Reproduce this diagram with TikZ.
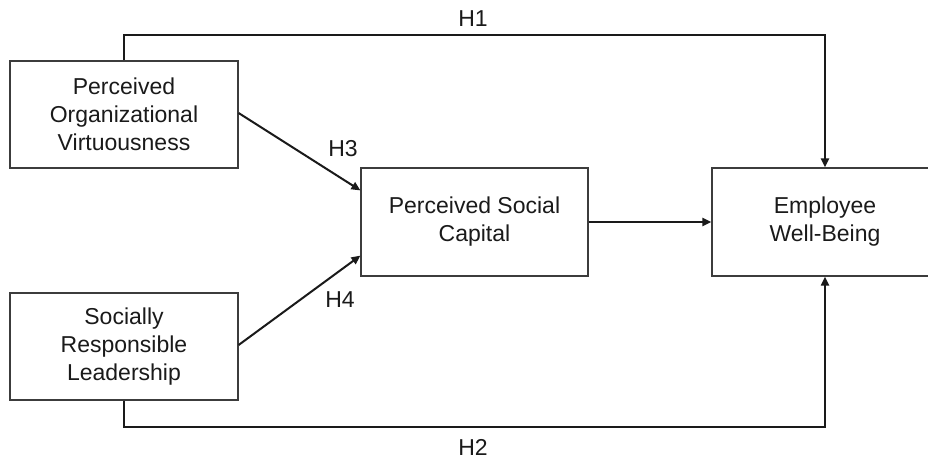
\documentclass[tikz,border=0pt]{standalone}
\usepackage{fontspec}
\setmainfont{Liberation Sans}
\usetikzlibrary{arrows.meta,calc}
\definecolor{ink}{HTML}{1A1A1A}
\definecolor{frame}{HTML}{3C3C3C}
\begin{document}
\begin{tikzpicture}[x=1pt,y=-1pt,
  box/.style={draw=frame,line width=1.2pt,fill=white,rectangle,align=center,
    inner sep=0pt,text=ink,font=\fontsize{23}{28}\selectfont},
  tip/.style={-{Triangle[length=9pt,width=8pt]}},
  conn/.style={draw=ink,line width=2pt,tip},
  hyp/.style={text=ink,font=\fontsize{23}{28}\selectfont,inner sep=0pt}]
  \useasboundingbox[fill=white] (0,0) rectangle (928,459);

  % constructs
  \node[box,minimum width=228pt,minimum height=107pt] (pov) at (124,114.5)
    {Perceived\\Organizational\\Virtuousness};
  \node[box,minimum width=228pt,minimum height=107pt] (srl) at (124,346.5)
    {Socially\\Responsible\\Leadership};
  \node[box,minimum width=227pt,minimum height=108pt] (psc) at (474.5,222)
    {Perceived Social\\Capital};
  \node[box,minimum width=226pt,minimum height=108pt] (ewb) at (825,222)
    {Employee\\Well-Being};

  % mediated paths
  \draw[conn] ($(pov.east)+(0,-1.5)$) -- ($(psc.north west)+(0,23)$);
  \draw[conn] ($(srl.east)+(0,-1.5)$) -- ($(psc.south west)+(0,-21)$);
  \draw[conn] (psc.east) -- (ewb.west);

  % direct paths
  \draw[conn] (pov.north) -- ++(0,-25) -| (ewb.north);
  \draw[conn] (srl.south) -- ++(0,26) -| (ewb.south);

  % hypothesis labels
  \node[hyp] (h1) at (473,19) {H1};
  \node[hyp] (h2) at (473,447) {H2};
  \node[hyp] (h3) at (343,149) {H3};
  \node[hyp] (h4) at (340,300) {H4};
\end{tikzpicture}
\end{document}
